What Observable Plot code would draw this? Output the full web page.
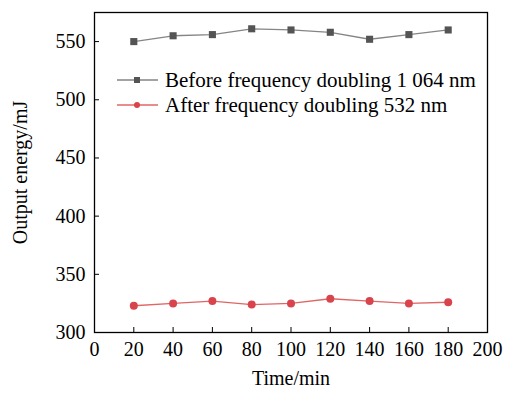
<!DOCTYPE html>
<html><head><meta charset="utf-8">
<script src="https://cdn.jsdelivr.net/npm/d3@7"></script>
<script src="https://cdn.jsdelivr.net/npm/@observablehq/plot@0.6"></script>
<style>
body{margin:0;background:#fff;}
#wrap{position:relative;width:505px;height:395px;font-family:"Liberation Serif","Times New Roman",serif;}
#legend{position:absolute;left:117px;top:68px;font-size:21px;line-height:24.5px;color:#000;}
#legend div{display:flex;align-items:center;white-space:nowrap;}
#legend svg{margin-right:7px;}
</style></head>
<body><div id="wrap"><div id="legend"></div></div>
<script>
const times = [20, 40, 60, 80, 100, 120, 140, 160, 180];
const before1064 = [550, 555, 556, 561, 560, 558, 552, 556, 560];
const after532 = [323, 325, 327, 324, 325, 329, 327, 325, 326];
const seriesNames = ["Before frequency doubling 1 064 nm", "After frequency doubling 532 nm"];
const xTicks = [0, 20, 40, 60, 80, 100, 120, 140, 160, 180, 200];
const yTicks = [300, 350, 400, 450, 500, 550];

const lineColors = ["#858585", "#e06666"];
const dotColors = ["#545454", "#d9444c"];

const dataB = times.map((t, i) => ({t, v: before1064[i]}));
const dataA = times.map((t, i) => ({t, v: after532[i]}));

const FS = 20;
const chart = Plot.plot({
  width: 505, height: 395,
  marginLeft: 94, marginRight: 18, marginTop: 12, marginBottom: 63,
  style: {fontFamily: '"Liberation Serif","Times New Roman",serif', fontSize: FS + "px", color: "#000", background: "transparent"},
  x: {domain: [0, 200], ticks: xTicks, label: null},
  y: {domain: [300, 575], ticks: yTicks, label: null},
  marks: [
    Plot.frame({stroke: "#000", strokeWidth: 1.3}),
    Plot.axisX({ticks: xTicks, tickSize: -5, tickPadding: 14, label: null, fontSize: FS}),
    Plot.axisY({ticks: yTicks, tickSize: -5, tickPadding: 14, label: null, fontSize: FS}),
    Plot.text(["Time/min"], {frameAnchor: "bottom", dy: 52, fontSize: FS}),
    Plot.text(["Output energy/mJ"], {frameAnchor: "left", textAnchor: "middle", dx: -74, rotate: -90, fontSize: FS}),
    Plot.line(dataB, {x: "t", y: "v", stroke: lineColors[0], strokeWidth: 1.3}),
    Plot.dot(dataB, {x: "t", y: "v", symbol: "square", fill: dotColors[0], r: 4}),
    Plot.line(dataA, {x: "t", y: "v", stroke: lineColors[1], strokeWidth: 1.3}),
    Plot.dot(dataA, {x: "t", y: "v", symbol: "circle", fill: dotColors[1], r: 4})
  ]
});
document.getElementById("wrap").prepend(chart);

const legend = document.getElementById("legend");
seriesNames.forEach((name, i) => {
  const row = document.createElement("div");
  const sym = i === 0
    ? `<rect x="17" y="6" width="6" height="6" fill="${dotColors[0]}"/>`
    : `<circle cx="20" cy="9" r="3" fill="${dotColors[1]}"/>`;
  row.innerHTML = `<svg width="41" height="18"><line x1="0" x2="41" y1="9" y2="9" stroke="${lineColors[i]}" stroke-width="1.5"/>${sym}</svg><span>${name}</span>`;
  legend.appendChild(row);
});
</script></body></html>
